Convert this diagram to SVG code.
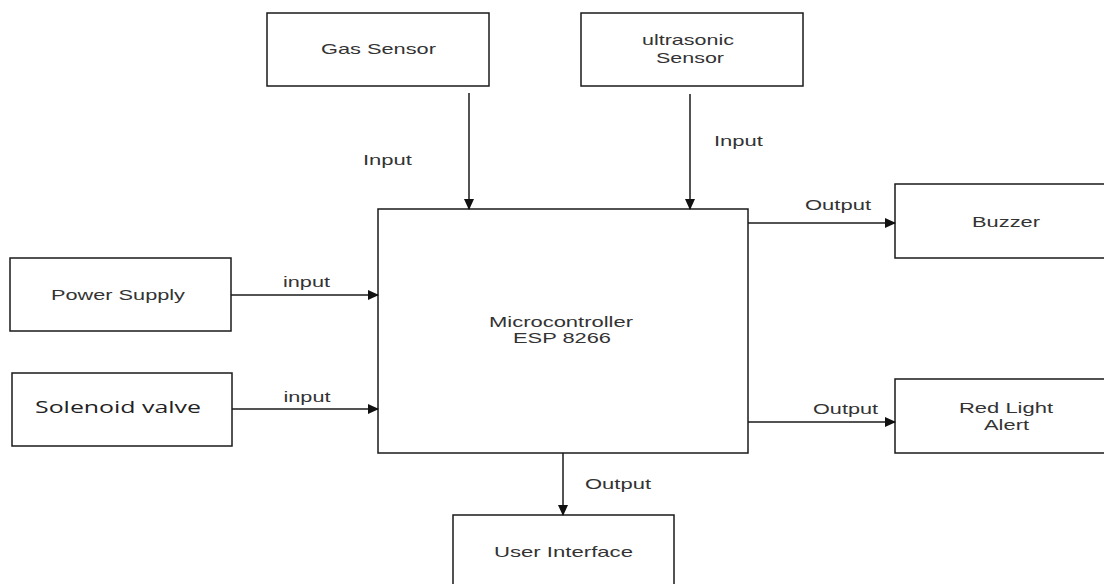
<svg xmlns="http://www.w3.org/2000/svg" width="1104" height="584" viewBox="0 0 1104 584">
<style>
.box{fill:#fff;stroke:#1a1a1a;stroke-width:1.5}
.t{font-family:"Liberation Sans",Arial,sans-serif;font-size:15px;fill:#333;text-anchor:middle}
.sv{font-family:"Open Sans","Liberation Sans",sans-serif;font-size:17px;fill:#222;text-anchor:middle}
.c{stroke:#1a1a1a;stroke-width:1.5;fill:none;marker-end:url(#ah)}
</style>
<defs>
<marker id="ah" markerWidth="12" markerHeight="12" refX="10" refY="5.5" orient="auto" markerUnits="userSpaceOnUse">
<path d="M0,0.5 L11,5.5 L0,10.5 Z" fill="#111"/>
</marker>
</defs>
<rect width="1104" height="584" fill="#fff"/>
<g id="gas"><rect class="box" x="267" y="13" width="222" height="73"/><text class="t" x="378.5" y="54" textLength="115" lengthAdjust="spacingAndGlyphs">Gas Sensor</text></g>
<g id="ultra"><rect class="box" x="581" y="13" width="222" height="73"/><text class="t" x="688" y="45" textLength="92" lengthAdjust="spacingAndGlyphs">ultrasonic</text><text class="t" x="690" y="63" textLength="68" lengthAdjust="spacingAndGlyphs">Sensor</text></g>
<g id="mcu"><rect class="box" x="378" y="209" width="370" height="244"/><text class="t" x="561" y="327" textLength="144" lengthAdjust="spacingAndGlyphs">Microcontroller</text><text class="t" x="562" y="343" textLength="98" lengthAdjust="spacingAndGlyphs">ESP 8266</text></g>
<g id="power"><rect class="box" x="10" y="258" width="221" height="73"/><text class="t" x="118" y="300" textLength="134" lengthAdjust="spacingAndGlyphs">Power Supply</text></g>
<g id="solenoid"><rect class="box" x="12" y="373" width="220" height="73"/><text class="sv" x="118" y="413" textLength="166" lengthAdjust="spacingAndGlyphs">Solenoid valve</text></g>
<g id="buzzer"><rect class="box" x="895" y="184" width="220" height="74"/><text class="t" x="1006" y="227" textLength="68" lengthAdjust="spacingAndGlyphs">Buzzer</text></g>
<g id="redlight"><rect class="box" x="895" y="379" width="220" height="74"/><text class="t" x="1006" y="413" textLength="94" lengthAdjust="spacingAndGlyphs">Red Light</text><text class="t" x="1006.5" y="430" textLength="45" lengthAdjust="spacingAndGlyphs">Alert</text></g>
<g id="ui"><rect class="box" x="453" y="515" width="221" height="80"/><text class="t" x="563.5" y="557" textLength="139" lengthAdjust="spacingAndGlyphs">User Interface</text></g>
<g id="connectors">
<line class="c" x1="469" y1="93" x2="469" y2="209"/>
<line class="c" x1="690" y1="94" x2="690" y2="209"/>
<line class="c" x1="231" y1="295" x2="378" y2="295"/>
<line class="c" x1="232" y1="409" x2="378" y2="409"/>
<line class="c" x1="748" y1="223" x2="895" y2="223"/>
<line class="c" x1="748" y1="422" x2="895" y2="422"/>
<line class="c" x1="563" y1="453" x2="563" y2="515"/>
<text class="t" x="387.5" y="165" textLength="49" lengthAdjust="spacingAndGlyphs">Input</text>
<text class="t" x="738.5" y="146" textLength="49" lengthAdjust="spacingAndGlyphs">Input</text>
<text class="t" x="306.5" y="287" textLength="47" lengthAdjust="spacingAndGlyphs">input</text>
<text class="t" x="307" y="402" textLength="47" lengthAdjust="spacingAndGlyphs">input</text>
<text class="t" x="838" y="210" textLength="66" lengthAdjust="spacingAndGlyphs">Output</text>
<text class="t" x="845.5" y="414" textLength="65" lengthAdjust="spacingAndGlyphs">Output</text>
<text class="t" x="618" y="489" textLength="66" lengthAdjust="spacingAndGlyphs">Output</text>
</g>
</svg>
